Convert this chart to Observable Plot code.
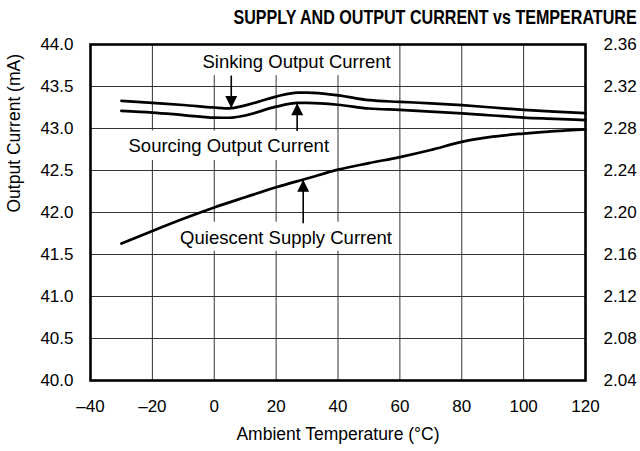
<!DOCTYPE html>
<html>
<head>
<meta charset="utf-8">
<script src="https://cdn.jsdelivr.net/npm/d3@7"></script>
<script src="https://cdn.jsdelivr.net/npm/@observablehq/plot@0.6"></script>
<style>
  html, body { margin: 0; padding: 0; background: #fff; }
  #wrap { width: 640px; height: 451px; position: relative; overflow: hidden; font-family: "Liberation Sans", Arial, sans-serif; }
  #title { position: relative; height: 32px; }
  #title span { position: absolute; top: 7.8px; right: 3px; font-size: 19.5px; line-height: 1; font-weight: bold; white-space: nowrap; color: #000; transform: scaleX(0.825); transform-origin: right center; }
  svg { display: block; }
</style>
</head>
<body>
<div id="wrap">
  <div id="title"><span id="titleText"></span></div>
  <div id="chart"></div>
</div>
<script>
// ---- data ----
const titleText = "SUPPLY AND OUTPUT CURRENT vs TEMPERATURE";
const xLabel = "Ambient Temperature (°C)";
const yLabel = "Output Current (mA)";

const xTicks = [-40, -20, 0, 20, 40, 60, 80, 100, 120];
const xTickLabels = ["\u201340", "\u201320", "0", "20", "40", "60", "80", "100", "120"];
const leftTicks = [40.0, 40.5, 41.0, 41.5, 42.0, 42.5, 43.0, 43.5, 44.0];
const rightTickLabels = ["2.04", "2.08", "2.12", "2.16", "2.20", "2.24", "2.28", "2.32", "2.36"];
const rightMin = 2.04, rightStep = 0.04; // right axis (quiescent supply current, mA)

// Output currents (mA, left axis)
const outTemps = [-30, -20, -10, 0, 5, 10, 20, 27, 30, 40, 50, 60, 70, 80, 90, 100, 110, 120];
const sinking  = [43.33, 43.305, 43.28, 43.25, 43.24, 43.275, 43.38, 43.428, 43.428, 43.395, 43.337, 43.317, 43.30, 43.278, 43.25, 43.222, 43.20, 43.183];
const sourcing = [43.21, 43.19, 43.16, 43.13, 43.128, 43.155, 43.26, 43.305, 43.305, 43.283, 43.238, 43.222, 43.202, 43.18, 43.155, 43.13, 43.115, 43.099];

// Quiescent supply current (mA, right axis)
const qTemps = [-30, -20, -10, 0, 10, 20, 30, 40, 50, 60, 70, 80, 90, 100, 110, 120];
const quiescent = [2.1704, 2.1824, 2.1940, 2.2048, 2.2145, 2.2240, 2.2324, 2.2408, 2.2470, 2.2528, 2.2595, 2.2672, 2.2722, 2.2752, 2.2775, 2.2792];

// Annotations (left-axis units)
const labelTexts = ["Sinking Output Current", "Sourcing Output Current", "Quiescent Supply Current"];
const labelX = [26.6, 4.7, 23.2];
const labelY = [43.79, 42.786, 41.70];
const arrowX = [5.5, 26.8, 28.75];
const arrowTip = [43.245, 43.30, 42.389];
const arrowTail = [43.63, 42.97, 41.873];
const arrowDir = ["down", "up", "up"];

// ---- build tables ----
document.getElementById("titleText").textContent = titleText;
const rightPerLeft = (rightStep / 0.5); // right units per left unit
const toLeft = q => 40 + (q - rightMin) / rightPerLeft;
const rightLabelMap = new Map(leftTicks.map((v, i) => [v, rightTickLabels[i]]));
const xLabelMap = new Map(xTicks.map((v, i) => [v, xTickLabels[i]]));

const outData = [];
outTemps.forEach((t, i) => {
  outData.push({series: "Sinking", t, v: sinking[i]});
  outData.push({series: "Sourcing", t, v: sourcing[i]});
});
const qData = qTemps.map((t, i) => ({t, v: toLeft(quiescent[i])}));
const labels = labelTexts.map((text, i) => ({text, x: labelX[i], y: labelY[i]}));
const arrows = arrowX.map((x, i) => ({x, tip: arrowTip[i], tail: arrowTail[i], dir: arrowDir[i]}));

const headW = 6, headH = 12;
const headDown = {draw(ctx) { ctx.moveTo(0, 0); ctx.lineTo(-headW, -headH); ctx.lineTo(headW, -headH); ctx.closePath(); }};
const headUp = {draw(ctx) { ctx.moveTo(0, 0); ctx.lineTo(-headW, headH); ctx.lineTo(headW, headH); ctx.closePath(); }};

// white label boxes (pixel paddings around each label centre)
const boxStyle = [
  {hw: 97, up: 19, down: 13.5},
  {hw: 103, up: 15.5, down: 14},
  {hw: 109, up: 15.5, down: 13.5}
];
const boxMarks = labels.map((d, i) => Plot.rect([d], {
  x1: "x", x2: "x", y1: "y", y2: "y",
  insetLeft: -boxStyle[i].hw, insetRight: -boxStyle[i].hw,
  insetTop: -boxStyle[i].up, insetBottom: -boxStyle[i].down,
  fill: "#fff"
}));

const font = "'Liberation Sans', Arial, sans-serif";

const chart = Plot.plot({
  width: 640,
  height: 419,
  marginTop: 12,
  marginBottom: 71,
  marginLeft: 90,
  marginRight: 55,
  style: {fontFamily: font, fontSize: "17px", color: "#000", background: "#fff"},
  x: {domain: [-40, 120]},
  y: {domain: [40, 44]},
  marks: [
    Plot.gridX(xTicks, {stroke: "#333", strokeOpacity: 1, strokeWidth: 1}),
    Plot.gridY(leftTicks, {stroke: "#333", strokeOpacity: 1, strokeWidth: 1}),
    Plot.axisX({ticks: xTicks, tickFormat: d => xLabelMap.get(d), tickSize: 0, tickPadding: 19, fontSize: 17, label: null}),
    Plot.axisY({ticks: leftTicks, tickFormat: d => d.toFixed(1), tickSize: 0, tickPadding: 17, fontSize: 17, label: null}),
    Plot.axisY({anchor: "right", ticks: leftTicks, tickFormat: d => rightLabelMap.get(d), tickSize: 0, tickPadding: 18, fontSize: 17, label: null}),
    ...boxMarks,
    Plot.text(labels, {x: "x", y: "y", text: "text", fontSize: 18.5, fill: "#000"}),
    Plot.line(outData, {x: "t", y: "v", z: "series", stroke: "#000", strokeWidth: 2.7, curve: "monotone-x"}),
    Plot.line(qData, {x: "t", y: "v", stroke: "#000", strokeWidth: 2.7, curve: "monotone-x"}),
    Plot.link(arrows, {x1: "x", x2: "x", y1: "tail", y2: "tip", stroke: "#000", strokeWidth: 1.6}),
    Plot.dot(arrows.filter(d => d.dir === "down"), {x: "x", y: "tip", symbol: headDown, fill: "#000", stroke: "none", r: 5}),
    Plot.dot(arrows.filter(d => d.dir === "up"), {x: "x", y: "tip", symbol: headUp, fill: "#000", stroke: "none", r: 5}),
    Plot.text([xLabel], {frameAnchor: "bottom", dy: 59, fontSize: 17.5, fill: "#000"}),
    Plot.text([yLabel], {frameAnchor: "left", dx: -76, rotate: -90, fontSize: 17.5, fill: "#000"}),
    Plot.frame({stroke: "#000", strokeWidth: 2.6})
  ]
});
document.getElementById("chart").appendChild(chart);
</script>
</body>
</html>
